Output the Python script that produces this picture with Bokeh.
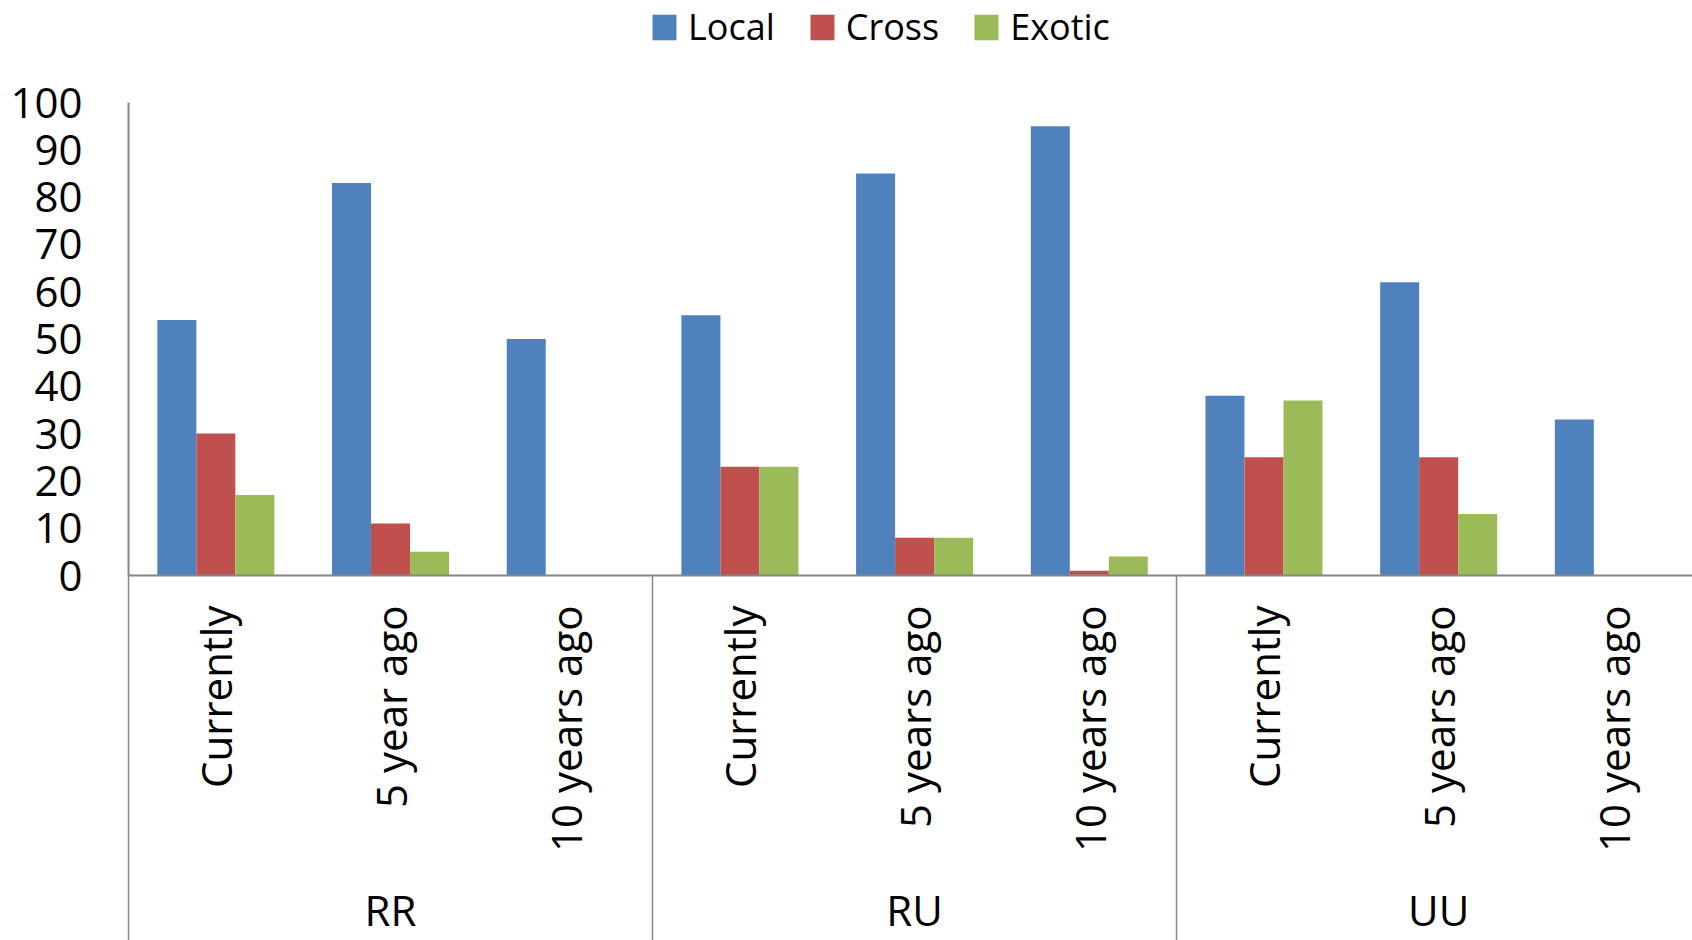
import math
from bokeh.plotting import figure
from bokeh.models import (Range1d, FixedTicker, LinearAxis, Legend, LegendItem)
from bokeh.embed import file_html
from bokeh.resources import INLINE

# ---- data ----
groups = ["RR", "RU", "UU"]
periods = ["Currently", "5 year ago", "10 years ago",
           "Currently", "5 years ago", "10 years ago",
           "Currently", "5 years ago", "10 years ago"]
local = [54, 83, 50, 55, 85, 95, 38, 62, 33]
cross = [30, 11, 0, 23, 8, 1, 25, 25, 0]
exotic = [17, 5, 0, 23, 8, 4, 37, 13, 0]
series_names = ["Local", "Cross", "Exotic"]
y_ticks = [0, 10, 20, 30, 40, 50, 60, 70, 80, 90, 100]

colors = ["#4F81BD", "#C0504D", "#9BBB59"]
AXIS_GREY = "#868686"
FONT = "Open Sans"
TICK_FS = "42px"

W, H = 1692, 940
LEFT = 128
BASE = 575          # pixel row of y=0
TOP100 = 102        # pixel row of y=100
px_per_unit = (BASE - TOP100) / 100.0
n = len(periods)
x_end = 8.953
bw = 0.2233
SEP_LEN = H - BASE

p = figure(width=W, height=H, output_backend="svg", toolbar_location=None,
           x_range=Range1d(0, x_end), y_range=Range1d(0, BASE / px_per_unit),
           x_axis_type=None, y_axis_type=None,
           min_border_left=LEFT, min_border_right=0, min_border_top=0,
           min_border_bottom=SEP_LEN)
p.outline_line_color = None
p.xgrid.visible = False
p.ygrid.visible = False
p.background_fill_color = "white"
p.border_fill_color = "white"

# y axis
yaxis = LinearAxis(ticker=FixedTicker(ticks=y_ticks), bounds=(0, 100),
                   axis_line_color=AXIS_GREY, axis_line_width=2,
                   major_tick_line_color=None, minor_tick_line_color=None,
                   major_label_text_font=FONT, major_label_text_font_size=TICK_FS,
                   major_label_text_color="black", major_label_standoff=40)
p.add_layout(yaxis, "left")

# x axis: period labels + group separators (long minor ticks)
centers = [i + 0.5 for i in range(n)]
sep = [3 * g for g in range(len(groups))]
xaxis1 = LinearAxis(ticker=FixedTicker(ticks=centers, minor_ticks=sep),
                    major_label_overrides={c: lab for c, lab in zip(centers, periods)},
                    major_label_orientation=math.pi / 2,
                    axis_line_color=AXIS_GREY, axis_line_width=2,
                    major_tick_line_color=None, major_tick_out=0, major_tick_in=0,
                    minor_tick_line_color=AXIS_GREY, minor_tick_line_width=1.5,
                    minor_tick_out=SEP_LEN, minor_tick_in=0,
                    major_label_text_font=FONT, major_label_text_font_size=TICK_FS,
                    major_label_text_color="black",
                    major_label_standoff=30 - SEP_LEN)
p.add_layout(xaxis1, "below")

gcenters = [3 * g + 1.5 for g in range(len(groups))]
xaxis2 = LinearAxis(ticker=FixedTicker(ticks=gcenters),
                    major_label_overrides={c: lab for c, lab in zip(gcenters, groups)},
                    axis_line_color=None, major_tick_line_color=None,
                    minor_tick_line_color=None, major_tick_out=0, major_tick_in=0,
                    major_label_text_font=FONT, major_label_text_font_size=TICK_FS,
                    major_label_text_color="black", major_label_standoff=26)
p.add_layout(xaxis2, "below")

# bars
renderers = []
for k, (vals, col) in enumerate(zip([local, cross, exotic], colors)):
    xs = [c + (k - 1) * bw for c in centers]
    r = p.vbar(x=xs, top=vals, width=bw, bottom=0, fill_color=col, line_color=None)
    renderers.append(r)

legend = Legend(items=[LegendItem(label=nm, renderers=[r]) for nm, r in zip(series_names, renderers)],
                orientation="horizontal", location=(521, 524),
                glyph_width=30, glyph_height=32, label_standoff=9, spacing=32,
                padding=0, margin=0, border_line_color=None, background_fill_alpha=0,
                label_text_font=FONT, label_text_font_size="36px",
                label_text_color="black")
p.add_layout(legend)

open("out.html", "w").write(file_html(p, INLINE))
